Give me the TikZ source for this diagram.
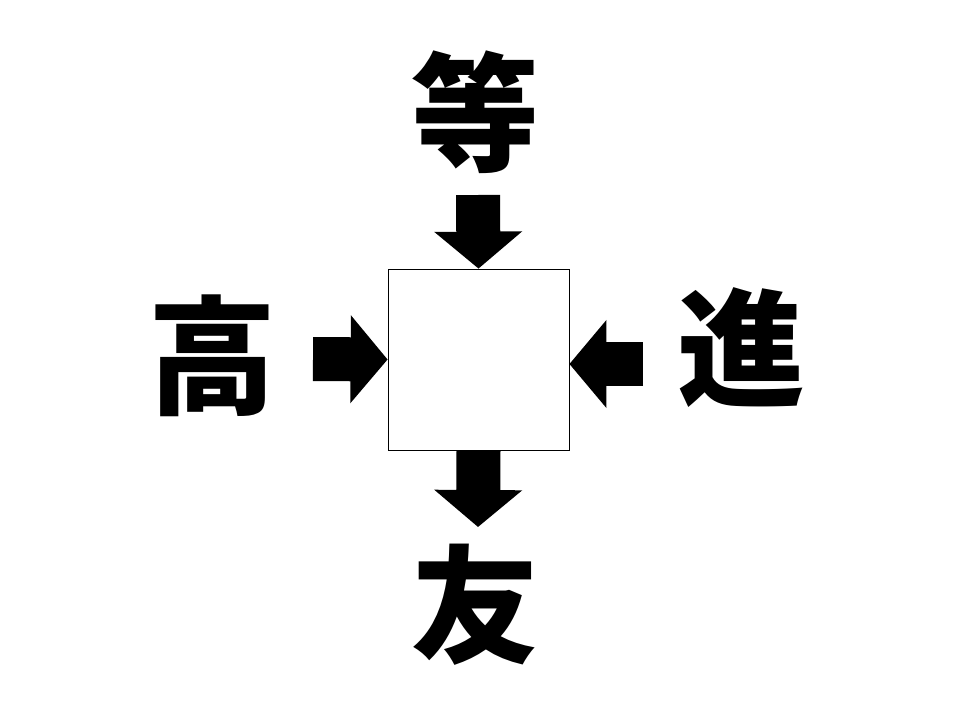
\documentclass[tikz,border=0pt]{standalone}
\usepackage{fontspec}
\newfontfamily\cjk{Noto Sans CJK JP}
\usetikzlibrary{arrows.meta}

\begin{document}
\begin{tikzpicture}[x = 1pt, y = -1pt,
    kanji/.style = {font = \cjk\bfseries\fontsize{128}{128}\selectfont, inner sep = 0pt},
    blank/.style = {draw, line width = 0.8pt, minimum size = 181pt, inner sep = 0pt},
    blockarrow/.style = {line width = 44pt, -{Triangle[length = 37pt, width = 86pt]}}]
    \useasboundingbox (0,0) rectangle (960,720);
    \node[blank] (box) at (478.5,359.5) {};
    \node[kanji] (top) at (475,112) {等};
    \node[kanji] (left) at (212,356) {高};
    \node[kanji] (right) at (741,348) {進};
    \node[kanji] (bottom) at (475,605) {友};
    \coordinate (topstart) at (478,195);
    \coordinate (leftstart) at (313,359);
    \coordinate (rightstart) at (643,364);
    \coordinate (bottomend) at (478,527);
    \draw[blockarrow] (topstart) -- (box.north);
    \draw[blockarrow] (leftstart) -- (box.west);
    \draw[blockarrow] (rightstart) -- (rightstart -| box.east);
    \draw[blockarrow] (box.south) -- (bottomend);
\end{tikzpicture}
\end{document}
